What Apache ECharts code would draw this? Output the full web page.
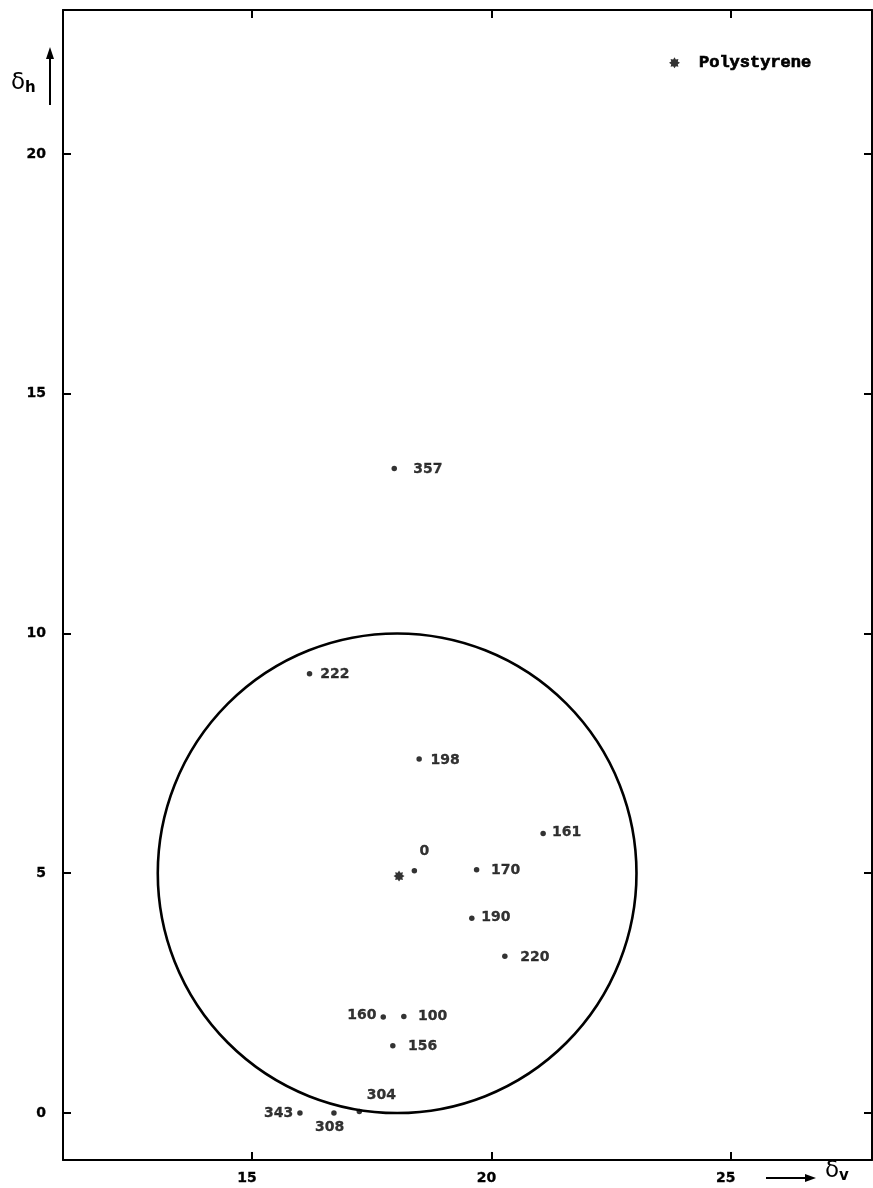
<!DOCTYPE html>
<html>
<head>
<meta charset="utf-8">
<script src="https://cdn.jsdelivr.net/npm/echarts@6/dist/echarts.min.js"></script>
<style>html,body{margin:0;padding:0;background:#fff}#c{width:873px;height:1188px}</style>
</head>
<body>
<div id="c"></div>
<script>
// ---- data ----
const solventLabels = ['357','222','198','161','0','170','190','220','160','100','156','304','308','343'];
const deltaV = [17.97,16.20,18.49,21.08,18.39,19.69,19.59,20.28,17.74,18.17,17.94,17.24,16.71,16.00];
const deltaH = [13.44,9.16,7.38,5.83,5.05,5.07,4.06,3.27,2.00,2.01,1.40,0.03,0.00,0.00];
const polymerName = 'Polystyrene';
const polymerPoint = [18.07, 4.94];
const circleCenter = [18.03, 5.0];
const circleRadius = [5.0];
const xTicks = [15, 20, 25];
const yTicks = [0, 5, 10, 15, 20];
const xRange = [11.05, 27.95];
const yRange = [-0.98, 23.0];

// ---- label placement (style) ----
const labelOffsets = {
  '357':[33.5,0.5],'222':[25.4,1],'198':[26,1],'161':[23.4,-0.6],'0':[10,-19],
  '170':[29,0],'190':[24,-1.3],'220':[30,0.7],'160':[-21.3,-1.6],'100':[28.8,-0.7],
  '156':[29.8,0.7],'304':[22,-16.7],'308':[-4.3,14],'343':[-21.3,0]
};

const mono = 'Liberation Mono';
const num = 'DejaVu Sans';
const star = 'path://M0,-10L2.49,-6L7.07,-7.07L6,-2.49L10,0L6,2.49L7.07,7.07L2.49,6L0,10L-2.49,6L-7.07,7.07L-6,2.49L-10,0L-6,-2.49L-7.07,-7.07L-2.49,-6Z';
const numStyle = {color:'#000', fontFamily:num, fontWeight:'bold', fontSize:14, textBorderColor:'#000', textBorderWidth:0.3};

const pointData = solventLabels.map((n,i)=>({
  name:n, value:[deltaV[i], deltaH[i]],
  label:{offset: labelOffsets[n]}
}));

const chart = echarts.init(document.getElementById('c'), null, {renderer:'canvas'});
const axisCommon = {
  type:'value', scale:false,
  axisLine:{show:true, onZero:false, lineStyle:{color:'#000', width:2}},
  splitLine:{show:false}
};
chart.setOption({
  animation:false,
  backgroundColor:'#fff',
  grid:{left:63, right:1, top:10, bottom:28, show:false},
  legend:{
    data:[polymerName], left:664, top:49, itemWidth:11, itemHeight:11, itemGap:0,
    icon: star,
    textStyle:{fontFamily:mono, fontWeight:'bold', fontSize:17, color:'#000', padding:[0,0,0,14], textBorderColor:'#000', textBorderWidth:0.7}
  },
  xAxis:[
    Object.assign({}, axisCommon, {min:xRange[0], max:xRange[1], position:'bottom',
      axisTick:{show:true, inside:true, length:8, customValues:xTicks, lineStyle:{color:'#000', width:2}},
      axisLabel:Object.assign({show:true, customValues:xTicks, margin:11, padding:[0,10,0,0]}, numStyle)}),
    Object.assign({}, axisCommon, {min:xRange[0], max:xRange[1], position:'top',
      axisTick:{show:true, inside:true, length:8, customValues:xTicks, lineStyle:{color:'#000', width:2}},
      axisLabel:{show:false}})
  ],
  yAxis:[
    Object.assign({}, axisCommon, {min:yRange[0], max:yRange[1], position:'left',
      axisTick:{show:true, inside:true, length:8, customValues:yTicks, lineStyle:{color:'#000', width:2}},
      axisLabel:Object.assign({show:true, customValues:yTicks, margin:17}, numStyle)}),
    Object.assign({}, axisCommon, {min:yRange[0], max:yRange[1], position:'right',
      axisTick:{show:true, inside:true, length:8, customValues:yTicks, lineStyle:{color:'#000', width:2}},
      axisLabel:{show:false}})
  ],
  graphic:[
    {type:'text', left:11, top:72, style:{text:'{a|δ}{b|h}', rich:{
      a:{fontFamily:'DejaVu Sans', fontSize:23, fill:'#000'},
      b:{fontFamily:'DejaVu Sans', fontSize:15, fill:'#000', fontWeight:'bold', verticalAlign:'bottom', padding:[10,0,0,0]}}}},
    {type:'line', shape:{x1:50, y1:105, x2:50, y2:56}, style:{stroke:'#000', lineWidth:2}},
    {type:'polygon', shape:{points:[[50,47],[46,59],[54,59]]}, style:{fill:'#000'}},
    {type:'line', shape:{x1:766, y1:1178, x2:808, y2:1178}, style:{stroke:'#000', lineWidth:2}},
    {type:'polygon', shape:{points:[[816,1178],[805,1174],[805,1182]]}, style:{fill:'#000'}},
    {type:'text', left:825, top:1160, style:{text:'{a|δ}{b|v}', rich:{
      a:{fontFamily:'DejaVu Sans', fontSize:23, fill:'#000'},
      b:{fontFamily:'DejaVu Sans', fontSize:15, fill:'#000', fontWeight:'bold', verticalAlign:'bottom', padding:[10,0,0,0]}}}}
  ],
  series:[
    {
      type:'custom', name:'circle', silent:true, coordinateSystem:'cartesian2d',
      data:[[circleCenter[0], circleCenter[1], circleRadius[0]]],
      renderItem:function(params, api){
        const c = api.coord([api.value(0), api.value(1)]);
        const s = api.size([api.value(2), api.value(2)]);
        const rx = s[0], ry = s[1];
        const d = 'M'+(c[0]-rx)+','+c[1]+' A'+rx+','+ry+' 0 1 0 '+(c[0]+rx)+','+c[1]+' A'+rx+','+ry+' 0 1 0 '+(c[0]-rx)+','+c[1]+' Z';
        return {type:'path', shape:{pathData:d}, style:{fill:'none', stroke:'#000', lineWidth:2.6}};
      },
      z:1
    },
    {
      type:'scatter', name:'solvents', symbol:'circle', symbolSize:5.5,
      itemStyle:{color:'#000'},
      label:Object.assign({show:true, formatter:'{b}', position:'inside', align:'center', verticalAlign:'middle'}, numStyle),
      data:pointData, z:3
    },
    {
      type:'scatter', name:polymerName, symbol:star, symbolSize:11,
      itemStyle:{color:'#000'}, data:[polymerPoint], z:3
    }
  ]
});
</script>
</body>
</html>
